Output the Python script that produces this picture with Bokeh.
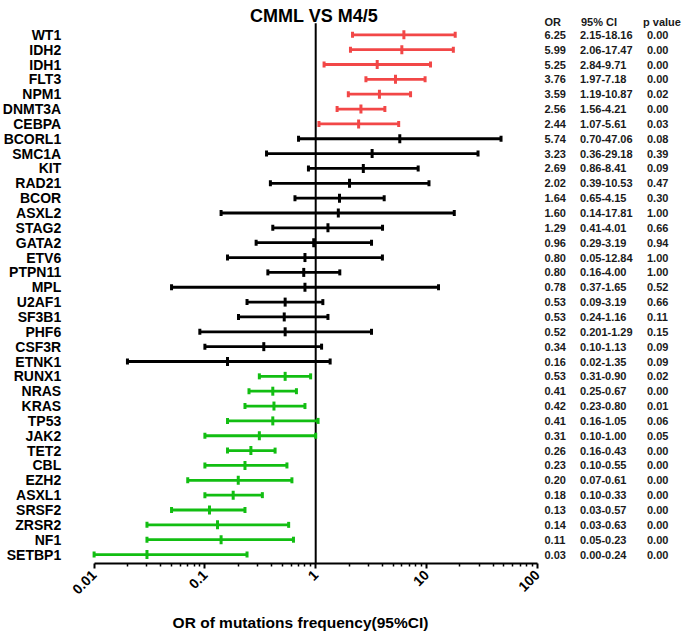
import numpy as np
from bokeh.plotting import figure
from bokeh.models import ColumnDataSource, FixedTicker, Range1d
from bokeh.core.properties import value
from bokeh.embed import file_html
from bokeh.resources import INLINE

# ---------------- data ----------------
genes = ["WT1", "IDH2", "IDH1", "FLT3", "NPM1", "DNMT3A", "CEBPA",
         "BCORL1", "SMC1A", "KIT", "RAD21", "BCOR", "ASXL2", "STAG2", "GATA2",
         "ETV6", "PTPN11", "MPL", "U2AF1", "SF3B1", "PHF6", "CSF3R", "ETNK1",
         "RUNX1", "NRAS", "KRAS", "TP53", "JAK2", "TET2", "CBL", "EZH2", "ASXL1",
         "SRSF2", "ZRSR2", "NF1", "SETBP1"]
group = ["up"] * 7 + ["ns"] * 16 + ["down"] * 13

# values as drawn in the forest plot
or_plot = [6.25, 5.99, 3.59, 5.25, 3.76, 2.56, 2.44,
           5.74, 3.23, 2.69, 2.02, 1.64, 1.60, 1.29, 0.96,
           0.80, 0.78, 0.80, 0.53, 0.52, 0.53, 0.34, 0.16,
           0.53, 0.41, 0.42, 0.41, 0.31, 0.26, 0.23, 0.20, 0.18,
           0.11, 0.13, 0.14, 0.03]
lo_plot = [2.15, 2.06, 1.19, 2.84, 1.97, 1.56, 1.07,
           0.70, 0.36, 0.86, 0.39, 0.65, 0.14, 0.41, 0.29,
           0.16, 0.37, 0.05, 0.24, 0.201, 0.09, 0.10, 0.02,
           0.31, 0.25, 0.23, 0.16, 0.10, 0.16, 0.10, 0.07, 0.10,
           0.05, 0.03, 0.03, 0.01]
hi_plot = [18.16, 17.47, 10.87, 9.71, 7.18, 4.21, 5.61,
           47.06, 29.18, 8.41, 10.53, 4.15, 17.81, 4.01, 3.19,
           4.00, 1.65, 12.84, 1.16, 1.29, 3.19, 1.13, 1.35,
           0.90, 0.67, 0.80, 1.05, 1.00, 0.43, 0.55, 0.61, 0.33,
           0.23, 0.57, 0.63, 0.24]

# table columns as printed
or_txt = ["6.25", "5.99", "5.25", "3.76", "3.59", "2.56", "2.44", "5.74", "3.23",
          "2.69", "2.02", "1.64", "1.60", "1.29", "0.96", "0.80", "0.80", "0.78",
          "0.53", "0.53", "0.52", "0.34", "0.16", "0.53", "0.41", "0.42", "0.41",
          "0.31", "0.26", "0.23", "0.20", "0.18", "0.13", "0.14", "0.11", "0.03"]
ci_txt = ["2.15-18.16", "2.06-17.47", "2.84-9.71", "1.97-7.18", "1.19-10.87",
          "1.56-4.21", "1.07-5.61", "0.70-47.06", "0.36-29.18", "0.86-8.41",
          "0.39-10.53", "0.65-4.15", "0.14-17.81", "0.41-4.01", "0.29-3.19",
          "0.05-12.84", "0.16-4.00", "0.37-1.65", "0.09-3.19", "0.24-1.16",
          "0.201-1.29", "0.10-1.13", "0.02-1.35", "0.31-0.90", "0.25-0.67",
          "0.23-0.80", "0.16-1.05", "0.10-1.00", "0.16-0.43", "0.10-0.55",
          "0.07-0.61", "0.10-0.33", "0.03-0.57", "0.03-0.63", "0.05-0.23",
          "0.00-0.24"]
p_txt = ["0.00", "0.00", "0.00", "0.00", "0.02", "0.00", "0.03", "0.08", "0.39",
         "0.09", "0.47", "0.30", "1.00", "0.66", "0.94", "1.00", "1.00", "0.52",
         "0.66", "0.11", "0.15", "0.09", "0.09", "0.02", "0.00", "0.01", "0.06",
         "0.05", "0.00", "0.00", "0.00", "0.00", "0.00", "0.00", "0.00", "0.00"]
header = ["OR", "95% CI", "p value"]

xtick_vals = [0.01, 0.1, 1, 10, 100]
xtick_labels = ["0.01", "0.1", "1", "10", "100"]
ref_or = 1

title_text = "CMML VS M4/5"
xlabel_text = "OR of mutations frequency(95%CI)"

# ---------------- layout / styling ----------------
palette = {"up": "#F24747", "ns": "#000000", "down": "#12BE12"}
FONT = "Liberation Sans"
W, H = 685, 632

n = len(genes)
ypos = [n - 1 - i for i in range(n)]
colors = [palette[g] for g in group]

# pixel geometry of the reference (canvas px), used only for placement
PX_001 = 93.6      # x pixel of 0.01
PX_DEC = 110.8     # pixels per decade
PY_ROW0 = 34.3     # y pixel of first row
PY_STEP = 14.85    # pixels per row

def px2x(px):
    return 10 ** ((px - PX_001) / PX_DEC - 2)

def py2y(py):
    return (n - 1) - (py - PY_ROW0) / PY_STEP

axis_y = py2y(563)
top_y = py2y(22.7)

src = ColumnDataSource(dict(y=ypos, gene=genes, orv=or_plot, lo=lo_plot, hi=hi_plot,
                            color=colors, or_txt=or_txt, ci_txt=ci_txt, p_txt=p_txt))

p = figure(width=W, height=H,
           x_axis_type="log", x_range=Range1d(px2x(0), px2x(W)),
           y_range=Range1d(py2y(H), py2y(0)),
           y_axis_location=None,
           min_border=0,
           output_backend="svg", toolbar_location=None)
p.outline_line_color = None
p.xgrid.visible = False
p.ygrid.visible = False
p.background_fill_color = "white"
p.border_fill_color = "white"

# vertical reference line at OR = 1
p.segment(x0=[ref_or], y0=[axis_y], x1=[ref_or], y1=[top_y], line_color="black", line_width=2)

# CI lines
p.segment(x0="lo", y0="y", x1="hi", y1="y", line_color="color", line_width=2.8, source=src)
# caps
p.scatter(x="lo", y="y", marker="dash", angle=np.pi / 2, size=6, line_color="color",
          line_width=3, source=src)
p.scatter(x="hi", y="y", marker="dash", angle=np.pi / 2, size=6, line_color="color",
          line_width=3, source=src)
# point estimate
p.scatter(x="orv", y="y", marker="dash", angle=np.pi / 2, size=9, line_color="color",
          line_width=3, source=src)

# x axis at a fixed location, limited to 0.01..100
xa = p.xaxis[0]
xa.fixed_location = axis_y
xa.bounds = (xtick_vals[0], xtick_vals[-1])
minor = [m * 10.0 ** e for e in range(-2, 2) for m in range(2, 10)]
xa.ticker = FixedTicker(ticks=xtick_vals, minor_ticks=minor)
xa.major_label_overrides = {v: l for v, l in zip(xtick_vals, xtick_labels)}
xa.major_label_orientation = np.pi / 4
xa.axis_line_width = 2
xa.axis_line_color = "black"
xa.major_tick_line_width = 2
xa.major_tick_in = 0
xa.major_tick_out = 5
xa.minor_tick_line_width = 1.5
xa.minor_tick_in = 0
xa.minor_tick_out = 3
xa.major_label_text_font = FONT
xa.major_label_text_font_style = "bold"
xa.major_label_text_font_size = "14px"
xa.major_label_text_color = "black"
xa.major_label_standoff = 4

# gene names
p.text(x=px2x(60.7), y="y", text="gene", source=src, text_font=value(FONT),
       text_font_style="bold", text_font_size="14px", text_color="black",
       text_align="right", text_baseline="middle")

# table
col_px = [544, 579.5, 646.5]
head_px = [544, 580.5, 642.5]
for key, px in zip(["or_txt", "ci_txt", "p_txt"], col_px):
    p.text(x=px2x(px), y="y", text=key, source=src, text_font=value(FONT),
           text_font_style="bold", text_font_size="11px", text_color="#1a1a1a",
           text_align="left", text_baseline="middle")
p.text(x=[px2x(v) for v in head_px], y=[py2y(21)] * len(header), text=header,
       text_font=value(FONT), text_font_style="bold", text_font_size="11px",
       text_color="#1a1a1a", text_align="left", text_baseline="middle")

# title and axis title
p.text(x=[px2x(313.5)], y=[py2y(15)], text=[title_text], text_font=value(FONT),
       text_font_style="bold", text_font_size="18px", text_color="black",
       text_align="center", text_baseline="alphabetic")
p.text(x=[px2x(300)], y=[py2y(621.5)], text=[xlabel_text], text_font=value(FONT),
       text_font_style="bold", text_font_size="15.5px", text_color="black",
       text_align="center", text_baseline="middle")

open("out.html", "w").write(file_html(p, INLINE))
